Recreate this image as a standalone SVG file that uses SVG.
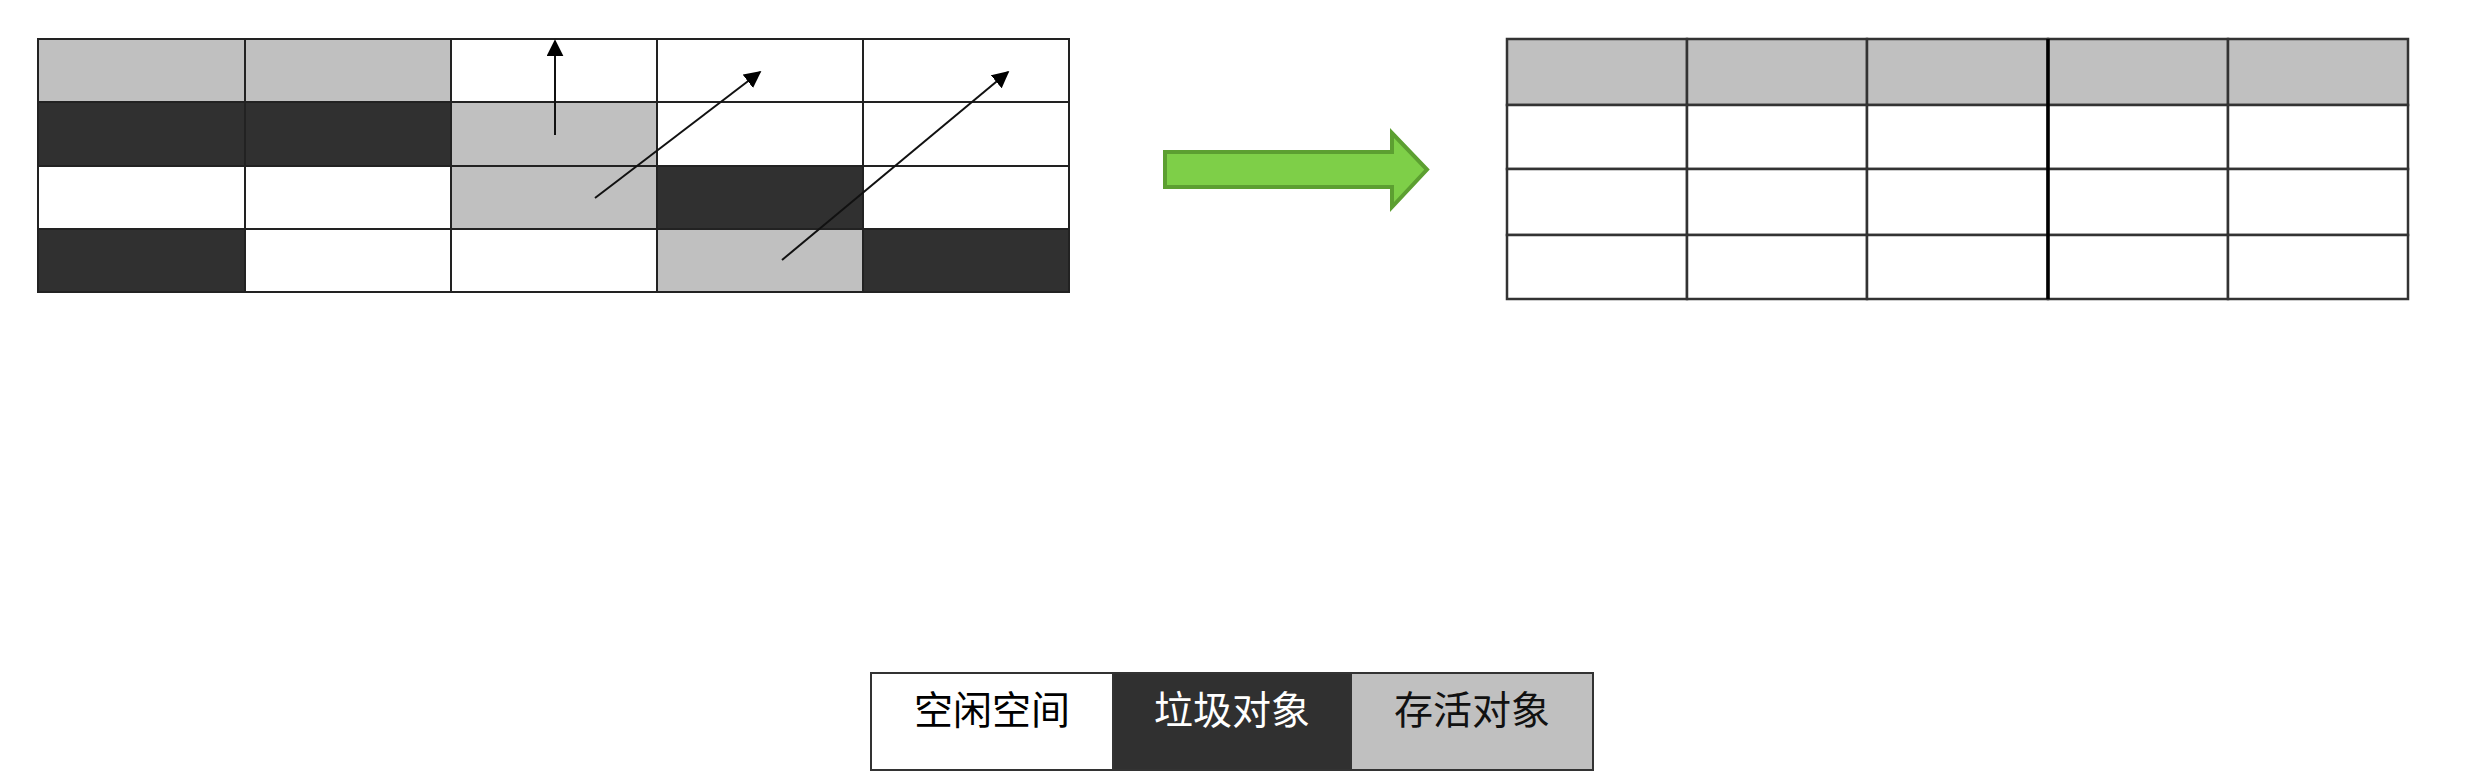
<svg xmlns="http://www.w3.org/2000/svg" width="2478" height="776" viewBox="0 0 2478 776">
<defs>
<style>
.w{fill:#ffffff}
.g{fill:#c0c0c0}
.d{fill:#303030}
.cell{stroke:#222;stroke-width:2}
.rc{stroke:#333;stroke-width:2.5}
.mv{stroke:#111;stroke-width:2;fill:none}
.lbl{font-family:"Noto Sans CJK SC","Noto Sans",sans-serif;font-size:39px;text-anchor:middle;dominant-baseline:central}
</style>
<marker id="ah2" viewBox="0 0 10 10" refX="9" refY="5" markerWidth="17" markerHeight="17" markerUnits="userSpaceOnUse" orient="auto">
<path d="M0,0 L10,5 L0,10 z" fill="#000"/>
</marker>
</defs>
<rect width="2478" height="776" fill="#ffffff"/>

<g id="before-heap" class="cell">
<rect class="g" x="38" y="39" width="207" height="63"/>
<rect class="g" x="245" y="39" width="206" height="63"/>
<rect class="w" x="451" y="39" width="206" height="63"/>
<rect class="w" x="657" y="39" width="206" height="63"/>
<rect class="w" x="863" y="39" width="206" height="63"/>
<rect class="d" x="38" y="102" width="207" height="64"/>
<rect class="d" x="245" y="102" width="206" height="64"/>
<rect class="g" x="451" y="102" width="206" height="64"/>
<rect class="w" x="657" y="102" width="206" height="64"/>
<rect class="w" x="863" y="102" width="206" height="64"/>
<rect class="w" x="38" y="166" width="207" height="63"/>
<rect class="w" x="245" y="166" width="206" height="63"/>
<rect class="g" x="451" y="166" width="206" height="63"/>
<rect class="d" x="657" y="166" width="206" height="63"/>
<rect class="w" x="863" y="166" width="206" height="63"/>
<rect class="d" x="38" y="229" width="207" height="63"/>
<rect class="w" x="245" y="229" width="206" height="63"/>
<rect class="w" x="451" y="229" width="206" height="63"/>
<rect class="g" x="657" y="229" width="206" height="63"/>
<rect class="d" x="863" y="229" width="206" height="63"/>
</g>

<g id="moves">
<line class="mv" x1="555" y1="135" x2="555" y2="41" marker-end="url(#ah2)"/>
<line class="mv" x1="595" y1="198" x2="760" y2="72" marker-end="url(#ah2)"/>
<line class="mv" x1="782" y1="260" x2="1008" y2="72" marker-end="url(#ah2)"/>
</g>

<g id="transform-arrow">
<path d="M1165,152 L1392,152 L1392,133 L1427,169.5 L1392,207 L1392,187 L1165,187 Z" fill="#7ecf48" stroke="#5c9f31" stroke-width="4" stroke-linejoin="miter"/>
</g>

<g id="after-heap" class="rc">
<rect class="g" x="1507" y="39" width="180" height="66"/>
<rect class="g" x="1687" y="39" width="180" height="66"/>
<rect class="g" x="1867" y="39" width="181" height="66"/>
<rect class="g" x="2048" y="39" width="180" height="66"/>
<rect class="g" x="2228" y="39" width="180" height="66"/>
<rect class="w" x="1507" y="105" width="180" height="64"/>
<rect class="w" x="1687" y="105" width="180" height="64"/>
<rect class="w" x="1867" y="105" width="181" height="64"/>
<rect class="w" x="2048" y="105" width="180" height="64"/>
<rect class="w" x="2228" y="105" width="180" height="64"/>
<rect class="w" x="1507" y="169" width="180" height="66"/>
<rect class="w" x="1687" y="169" width="180" height="66"/>
<rect class="w" x="1867" y="169" width="181" height="66"/>
<rect class="w" x="2048" y="169" width="180" height="66"/>
<rect class="w" x="2228" y="169" width="180" height="66"/>
<rect class="w" x="1507" y="235" width="180" height="64"/>
<rect class="w" x="1687" y="235" width="180" height="64"/>
<rect class="w" x="1867" y="235" width="181" height="64"/>
<rect class="w" x="2048" y="235" width="180" height="64"/>
<rect class="w" x="2228" y="235" width="180" height="64"/>
<line x1="2048" y1="39" x2="2048" y2="299" stroke="#000" stroke-width="3.5"/>
</g>

<g id="legend-free">
<rect x="871" y="673" width="242" height="97" fill="#ffffff" stroke="#333" stroke-width="2"/>
<text class="lbl" x="992" y="707" fill="#000">空闲空间</text>
</g>
<g id="legend-garbage">
<rect x="1113" y="673" width="238" height="97" fill="#303030" stroke="#333" stroke-width="2"/>
<text class="lbl" x="1232" y="707" fill="#ffffff">垃圾对象</text>
</g>
<g id="legend-live">
<rect x="1351" y="673" width="242" height="97" fill="#c0c0c0" stroke="#333" stroke-width="2"/>
<text class="lbl" x="1472" y="707" fill="#111">存活对象</text>
</g>
</svg>
